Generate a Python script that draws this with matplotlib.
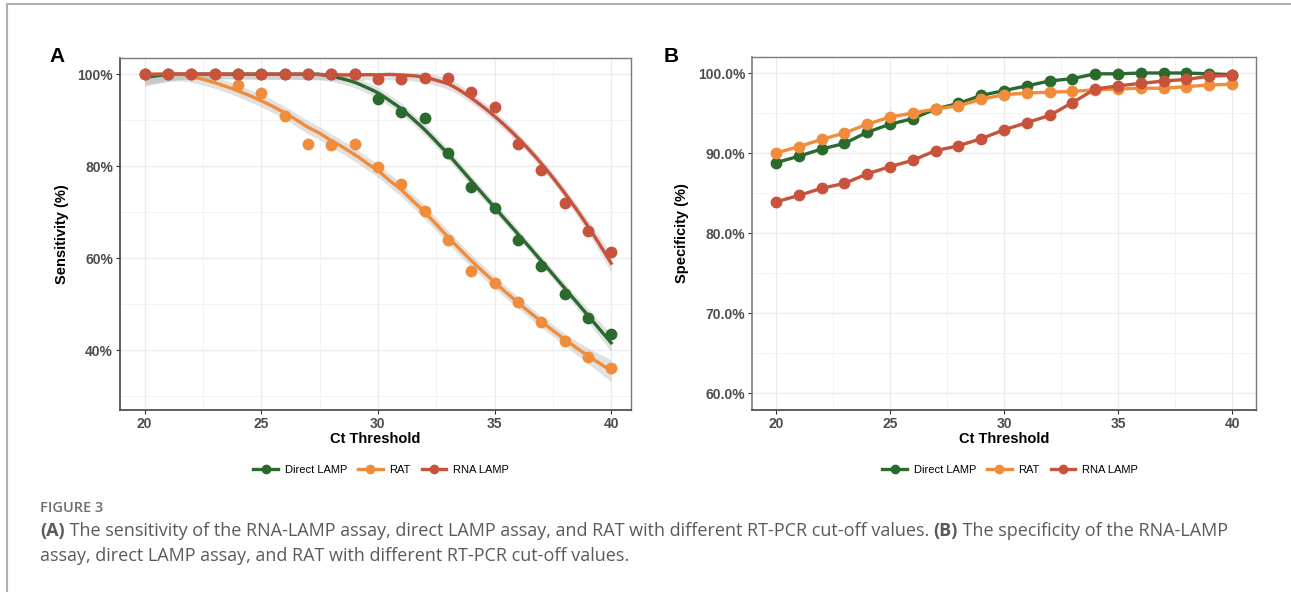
import matplotlib

matplotlib.use("Agg")
import matplotlib.pyplot as plt
import numpy as np
from matplotlib.lines import Line2D
from matplotlib.ticker import FuncFormatter, MultipleLocator

# --- data ---------------------------------------------------------------------
ct = np.arange(20, 41)
series = ["Direct LAMP", "RAT", "RNA LAMP"]

sens_direct = [100, 100, 100, 100, 100, 100, 100, 100, 100, 100,
               94.5, 91.8, 90.4, 82.8, 75.4, 71.0, 63.9, 58.4, 52.2, 47.0, 43.5]
sens_rat = [100, 100, 100, 100, 97.6, 95.9, 90.9, 84.9, 84.6, 84.9,
            79.8, 76.1, 70.2, 63.9, 57.3, 54.7, 50.4, 46.1, 41.9, 38.5, 36.2]
sens_rna = [100, 100, 100, 100, 100, 100, 100, 100, 100, 100,
            98.9, 98.9, 99.1, 99.1, 96.2, 92.9, 84.8, 79.2, 72.0, 66.0, 61.3]

spec_direct = [88.8, 89.6, 90.5, 91.2, 92.6, 93.6, 94.3, 95.5, 96.2, 97.2,
               97.8, 98.4, 99.0, 99.3, 99.9, 99.9, 100, 100, 100, 99.9, 99.8]
spec_rat = [90.0, 90.8, 91.7, 92.5, 93.6, 94.5, 95.0, 95.5, 95.9, 96.7,
            97.3, 97.5, 97.6, 97.7, 97.9, 98.0, 98.1, 98.1, 98.3, 98.5, 98.6]
spec_rna = [83.9, 84.7, 85.6, 86.2, 87.4, 88.3, 89.1, 90.3, 90.9, 91.8,
            92.9, 93.8, 94.7, 96.3, 98.0, 98.4, 98.7, 99.0, 99.2, 99.6, 99.7]

colors = ["#2B6A2F", "#F08C3A", "#C8523B"]


def loess_matrix(x, x_eval, span=0.75):
    """Rows are loess (degree 2, tricube) weights, like ggplot's geom_smooth."""
    n = len(x)
    q = int(np.floor(n * span))
    rows = []
    for x0 in x_eval:
        d = np.abs(x - x0)
        h = np.sort(d)[q - 1]
        w = np.clip(1 - (d / h) ** 3, 0, None) ** 3
        X = np.column_stack([np.ones(n), x - x0, (x - x0) ** 2])
        XtW = X.T * w
        rows.append(np.linalg.solve(XtW @ X, XtW)[0])
    return np.array(rows)


def smooth(x, y, grid):
    x = np.asarray(x, float)
    y = np.asarray(y, float)
    L = loess_matrix(x, x)
    M = np.eye(len(x)) - L
    resid = y - L @ y
    sigma = np.sqrt(np.sum(resid ** 2) / np.trace(M.T @ M))
    Lg = loess_matrix(x, grid)
    fit = Lg @ y
    se = sigma * np.sqrt(np.sum(Lg ** 2, axis=1))
    # sensitivity can't pass 100%, keep the curve under the ceiling
    fit = np.minimum(fit, 100.0)
    return fit, fit - 2.1 * se, np.minimum(fit + 2.1 * se, 100.4)


plt.rcParams["font.family"] = ["Liberation Sans", "DejaVu Sans"]

fig = plt.figure(figsize=(12.91, 5.92), dpi=100)
W, H = 1291, 592


def style_axes(ax, ylim, ymaj, fmt):
    ax.set_xlim(18.95, 40.85)
    ax.set_ylim(*ylim)
    ax.xaxis.set_major_locator(MultipleLocator(5))
    ax.xaxis.set_minor_locator(MultipleLocator(2.5))
    ax.yaxis.set_major_locator(MultipleLocator(ymaj))
    ax.yaxis.set_minor_locator(MultipleLocator(ymaj / 2))
    ax.yaxis.set_major_formatter(FuncFormatter(fmt))
    ax.grid(which="major", color="#EBEBEB", lw=0.9)
    ax.grid(which="minor", color="#F3F3F3", lw=0.7)
    ax.set_axisbelow(True)
    for s in ["top", "right"]:
        ax.spines[s].set_color("#7a7a7a")
        ax.spines[s].set_linewidth(1.0)
    for s in ["left", "bottom"]:
        ax.spines[s].set_color("#444444")
        ax.spines[s].set_linewidth(1.2)
    ax.tick_params(which="minor", length=0)
    ax.tick_params(which="major", length=3, width=0.8, color="#333333",
                   labelsize=10, labelcolor="#4D4D4D", pad=2)
    for lab in ax.get_xticklabels() + ax.get_yticklabels():
        lab.set_fontweight("bold")
    ax.set_xlabel("Ct Threshold", fontsize=10.5, fontweight="bold", labelpad=1)


# --- panel A: sensitivity ------------------------------------------------------
axA = fig.add_axes([120 / W, 1 - 410 / H, 511 / W, 352 / H])
grid = np.linspace(20, 40, 200)
for vals, c in zip([sens_direct, sens_rat, sens_rna], colors):
    fit, lo, hi = smooth(ct, vals, grid)
    axA.fill_between(grid, lo, hi, color="#BDBDBD", alpha=0.45, lw=0, zorder=2)
    axA.plot(grid, fit, color=c, lw=2.4, zorder=3)
for vals, c in zip([sens_direct, sens_rat, sens_rna], colors):
    axA.plot(ct, vals, "o", color=c, ms=8.5, mew=0, zorder=4)
style_axes(axA, (27.0, 103.5), 20, lambda v, p: f"{v:.0f}%")
axA.set_ylabel("Sensitivity (%)", fontsize=10.5, fontweight="bold", labelpad=6)

# --- panel B: specificity ------------------------------------------------------
axB = fig.add_axes([752 / W, 1 - 410 / H, 504 / W, 353 / H])
for vals, c in zip([spec_direct, spec_rat, spec_rna], colors):
    axB.plot(ct, vals, "-o", color=c, lw=2.4, ms=8.5, mew=0, zorder=3)
style_axes(axB, (57.9, 102.0), 10, lambda v, p: f"{v:.1f}%")
axB.set_xlim(18.95, 41.05)
axB.spines["left"].set_color("#7a7a7a")
axB.set_ylabel("Specificity (%)", fontsize=10.5, fontweight="bold", labelpad=6)

fig.text(57 / W, 1 - 57 / H, "A", fontsize=15, fontweight="bold", ha="center", va="center")
fig.text(671 / W, 1 - 57 / H, "B", fontsize=15, fontweight="bold", ha="center", va="center")

# legends under each panel
handles = [Line2D([], [], color=c, lw=2.4, marker="o", ms=7, mew=0) for c in colors]
for cx in [381, 1010]:
    fig.legend(handles, series, loc="center", bbox_to_anchor=(cx / W, 1 - 470 / H),
               ncol=3, frameon=False, fontsize=8, handlelength=2.2,
               handletextpad=0.6, columnspacing=1.0)

# --- caption -------------------------------------------------------------------
cap = dict(family=["Open Sans", "DejaVu Sans"], color="#5a5a5a", fontsize=13, va="center")
fig.text(40 / W, 1 - 508 / H, "FIGURE 3", fontsize=10.5, fontweight="semibold",
         family=["Open Sans", "DejaVu Sans"], color="#6e6e6e", va="center")
t0 = fig.text(40 / W, 1 - 531 / H, "(A)", fontweight="bold", **cap)
t1 = plt.annotate(" The sensitivity of the RNA-LAMP assay, direct LAMP assay, and RAT "
                  "with different RT-PCR cut-off values. ", xy=(1, 0.5), xycoords=t0,
                  ha="left", annotation_clip=False, **cap)
t2 = plt.annotate("(B)", xy=(1, 0.5), xycoords=t1, ha="left", fontweight="bold",
                  annotation_clip=False, **cap)
plt.annotate(" The specificity of the RNA-LAMP", xy=(1, 0.5), xycoords=t2, ha="left",
             annotation_clip=False, **cap)
fig.text(40 / W, 1 - 556 / H, "assay, direct LAMP assay, and RAT with different "
         "RT-PCR cut-off values.", **cap)

# page frame lines
fig.add_artist(Line2D([7 / W, 1], [1 - 4 / H, 1 - 4 / H], color="#b0b0b0", lw=1.5))
fig.add_artist(Line2D([7 / W, 7 / W], [1 - 4 / H, 0], color="#b0b0b0", lw=1.5))

fig.savefig("out.png", dpi=100)
